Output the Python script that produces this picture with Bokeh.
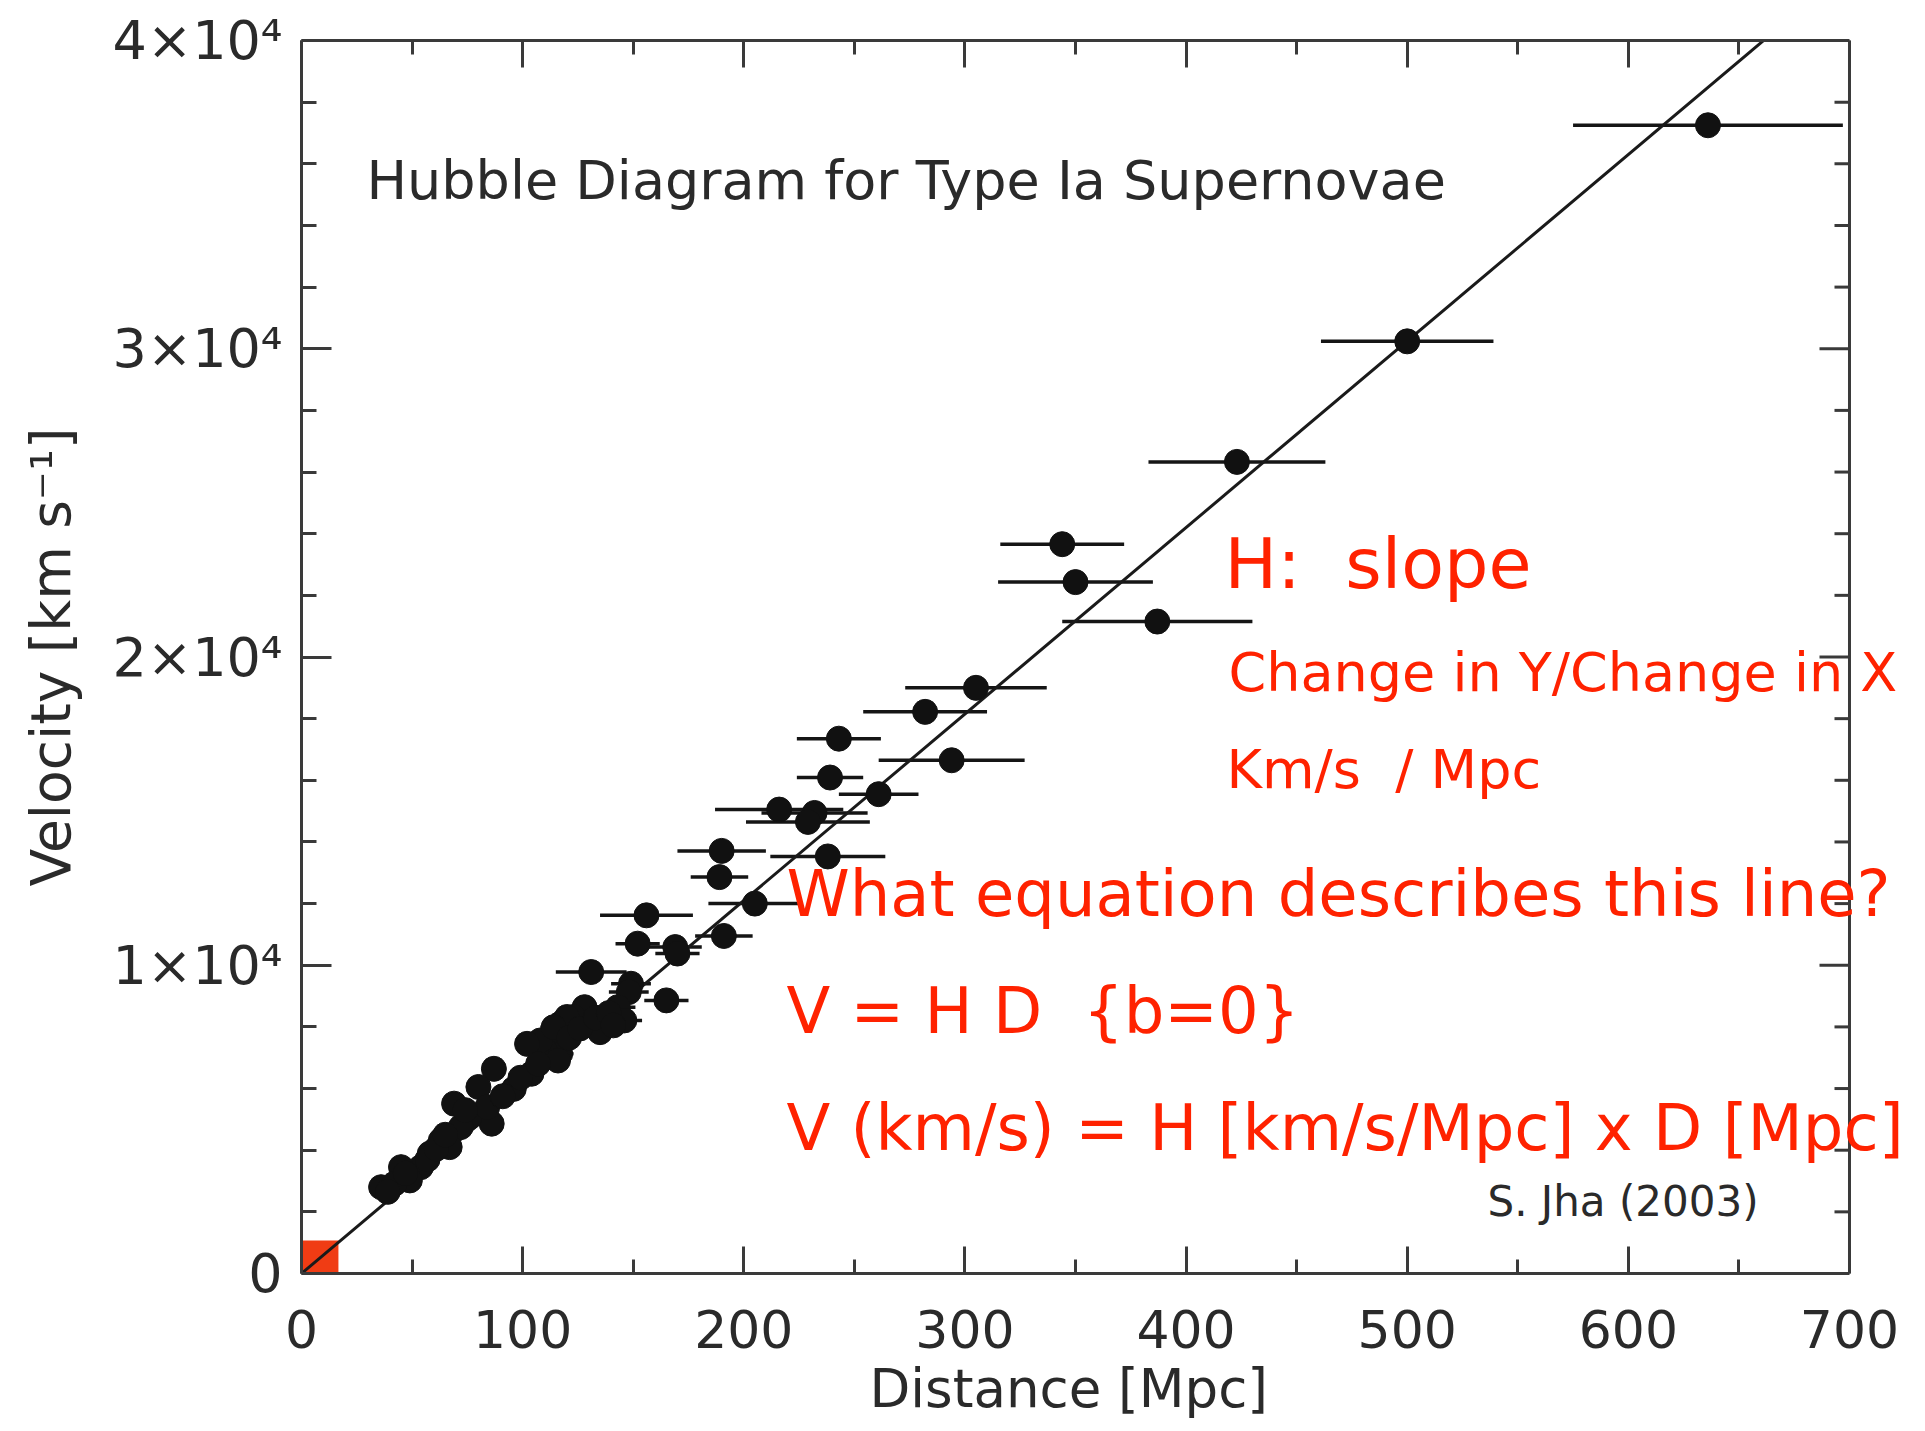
import math
from bokeh.plotting import figure
from bokeh.models import Range1d, LinearAxis, FixedTicker, Label, Span, Title
from bokeh.embed import file_html
from bokeh.resources import INLINE

# ---------------- data ----------------
distance_mpc = [636, 500, 423, 344, 350, 387, 305,
                282, 243, 294, 239, 261, 216, 232, 229,
                190, 238, 189, 205, 156,
                152, 169, 170, 191,
                131, 149, 148, 165, 143, 146, 135,
                128, 123, 117, 113, 117, 110, 108, 102, 116,
                87, 96, 104, 80, 69, 86, 76, 72,
                63, 58, 67, 54, 45, 49, 36, 42,
                84, 120, 114,
                39, 47, 57, 61, 65, 74, 91, 99, 107, 121, 126, 133, 139, 141]
velocity_kms = [37250, 30240, 26330, 23660, 22430, 21150, 19000,
                18220, 17350, 16650, 16090, 15550, 15050, 14940, 14650,
                13710, 13530, 12860, 12000, 11620,
                10700, 10590, 10380, 10950,
                9780, 9400, 9130, 8860, 8640, 8210, 7830,
                8640, 8320, 8100, 7670, 7130, 7240, 7560, 7450, 6910,
                6640, 5990, 6480, 6050, 5510, 4860, 5070, 4750,
                4320, 3890, 4100, 3450, 3450, 3020, 2800, 2910,
                5400, 8320, 7990,
                2650, 3250, 3700, 4050, 4500, 5300, 5750, 6350, 6800, 7650, 7950, 8300, 8450, 8050]
distance_err = [61, 39, 40, 28, 35, 43, 32,
                28, 19, 33, 15, 18, 29, 24, 28,
                20, 26, 13, 21, 21,
                10, 12, 10, 13,
                16, 9, 9, 10, 8, 8, 8,
                7, 7, 6, 6, 6, 6, 6, 5, 5,
                5, 5, 5, 4, 4, 4, 4, 4,
                3, 3, 3, 3, 3, 3, 2, 2,
                4, 7, 6,
                2, 3, 3, 3, 3, 4, 4, 5, 5, 6, 6, 7, 7, 7]

fit_distance = [0, 700]
fit_velocity = [0, 42350]

origin_box_distance = [0, 16.7]
origin_box_velocity = [0, 1070]

x_major_ticks = [0, 100, 200, 300, 400, 500, 600, 700]
x_minor_ticks = [50, 150, 250, 350, 450, 550, 650]
y_major_ticks = [0, 10000, 20000, 30000, 40000]
y_minor_ticks = [2000, 4000, 6000, 8000, 12000, 14000, 16000, 18000,
                 22000, 24000, 26000, 28000, 32000, 34000, 36000, 38000]
y_tick_labels = {0: "0", 10000: "1×10⁴", 20000: "2×10⁴",
                 30000: "3×10⁴", 40000: "4×10⁴"}

X_MIN, X_MAX = 0, 700          # axis box of the original plot
Y_MIN, Y_MAX = 0, 40000
X_VIEW_END = 734.37            # visible area continues past the box (for the overlay text)

err_low = [d - e for d, e in zip(distance_mpc, distance_err)]
err_high = [d + e for d, e in zip(distance_mpc, distance_err)]

# ---------------- figure ----------------
AX = "#3a3a3a"
FONT = "DejaVu Sans"
RED = "#FF2200"
TXT = "#2a2a2a"

p = figure(width=1925, height=1431,
           x_range=Range1d(X_MIN, X_VIEW_END), y_range=Range1d(Y_MIN, Y_MAX),
           output_backend="svg", toolbar_location=None,
           min_border_left=301, min_border_right=0,
           min_border_top=40, min_border_bottom=158)
p.title.visible = False
p.xgrid.visible = False
p.ygrid.visible = False
p.outline_line_color = None
p.background_fill_color = "white"
p.border_fill_color = "white"


def style_axis(ax, major_in, minor_in):
    ax.axis_line_color = AX
    ax.axis_line_width = 3
    ax.major_tick_line_color = AX
    ax.minor_tick_line_color = AX
    ax.major_tick_line_width = 3
    ax.minor_tick_line_width = 3
    ax.major_tick_in = major_in
    ax.major_tick_out = 0
    ax.minor_tick_in = minor_in
    ax.minor_tick_out = 0
    ax.major_label_text_font = FONT
    ax.major_label_text_color = TXT
    ax.axis_label_text_font = FONT
    ax.axis_label_text_font_style = "normal"
    ax.axis_label_text_color = TXT


xb = p.xaxis[0]
xb.ticker = FixedTicker(ticks=x_major_ticks, minor_ticks=x_minor_ticks)
xb.bounds = (X_MIN, X_MAX)
style_axis(xb, 27, 14)
xb.major_label_text_font_size = "52px"
xb.major_label_standoff = 36

# x-axis title, placed under the middle of the axis box (the visible area is wider)
p.add_layout(Title(text="Distance [Mpc]", align="left", offset=568,
                   standoff=10, text_font=FONT, text_font_size="53px",
                   text_font_style="normal", text_color=TXT), "below")

yl = p.yaxis[0]
yl.ticker = FixedTicker(ticks=y_major_ticks, minor_ticks=y_minor_ticks)
style_axis(yl, 30, 15)
yl.major_label_overrides = y_tick_labels
yl.major_label_text_font_size = "54px"
yl.major_label_standoff = 19
yl.axis_label = "Velocity [km s⁻¹]"
yl.axis_label_text_font_size = "55px"
yl.axis_label_standoff = 27

xt = LinearAxis(ticker=FixedTicker(ticks=x_major_ticks, minor_ticks=x_minor_ticks))
xt.bounds = (X_MIN, X_MAX)
style_axis(xt, 27, 14)
xt.major_label_text_font_size = "0px"
xt.major_label_text_color = None
xt.major_label_standoff = 0
p.add_layout(xt, "above")

# ---------------- right edge of the axis box ----------------
p.add_layout(Span(location=X_MAX, dimension="height", line_color=AX, line_width=3))
p.ray(x=[X_MAX] * len(y_major_ticks), y=y_major_ticks, length=30,
      length_units="screen", angle=math.pi, line_color=AX, line_width=3)
p.ray(x=[X_MAX] * len(y_minor_ticks), y=y_minor_ticks, length=15,
      length_units="screen", angle=math.pi, line_color=AX, line_width=3)

# ---------------- marks ----------------
p.quad(left=[origin_box_distance[0]], right=[origin_box_distance[1]],
       bottom=[origin_box_velocity[0]], top=[origin_box_velocity[1]],
       fill_color="#F03C14", line_color=None)

p.segment(x0=err_low, y0=velocity_kms, x1=err_high, y1=velocity_kms,
          line_color="#151515", line_width=3.5)

p.line(fit_distance, fit_velocity, line_color="#1a1a1a", line_width=3)

p.scatter(distance_mpc, velocity_kms, size=25, color="#111111")


# ---------------- text ----------------
def add_label(x, y, text, size, color, font=FONT):
    p.add_layout(Label(x=x, y=y, text=text, text_font=font,
                       text_font_size=size, text_color=color,
                       text_align="left", text_baseline="alphabetic"))


add_label(29.4, 35473, "Hubble Diagram for Type Ia Supernovae", "54px", TXT)
add_label(536.3, 2347, "S. Jha (2003)", "42px", TXT)

add_label(417.4, 23024, "H: \u00a0slope", "70px", RED)
add_label(419.2, 19486, "Change in Y/Change in X", "54px", RED)
add_label(418.3, 16338, "Km/s \u00a0/ Mpc", "54px", RED)
add_label(219.3, 12297, "What equation describes this line?", "64px", RED)
add_label(219.3, 8532, "V = H D \u00a0{b=0}", "64px", RED)
add_label(219.3, 4717, "V (km/s) = H [km/s/Mpc] x D [Mpc]", "64px", RED)

open("out.html", "w").write(file_html(p, INLINE))
